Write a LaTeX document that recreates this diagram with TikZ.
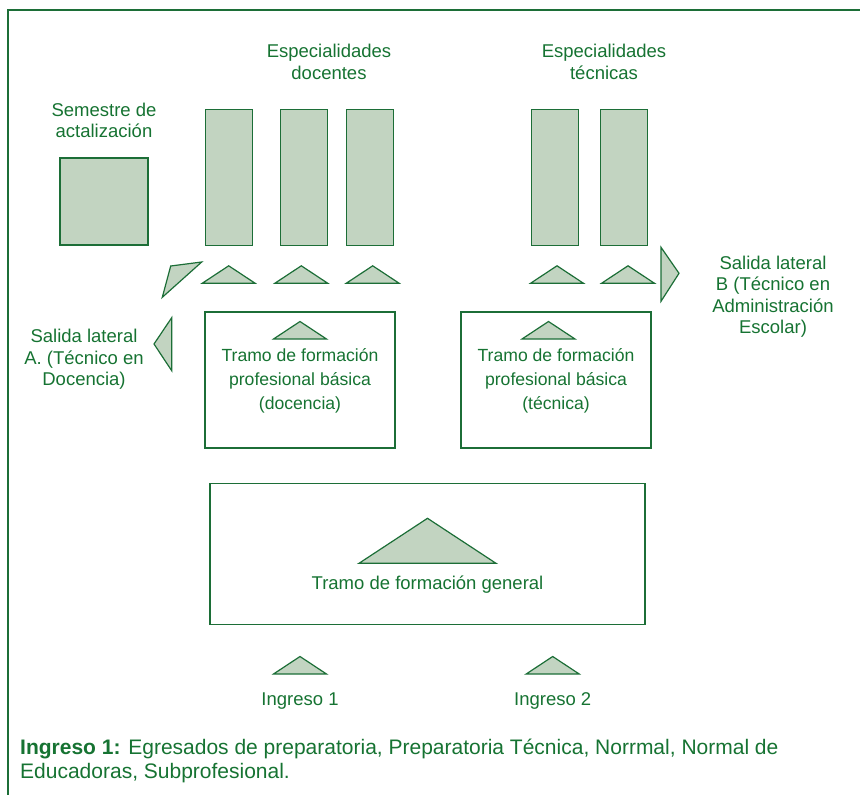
\documentclass[tikz,border=0pt]{standalone}
\usepackage{fontspec}
\setmainfont{Liberation Sans}
\usetikzlibrary{positioning}
\definecolor{verde}{RGB}{28,110,55}
\definecolor{texto}{RGB}{22,115,50}
\definecolor{relleno}{RGB}{194,212,193}

\begin{document}
\begin{tikzpicture}[x=1pt,y=-1pt,
    box/.style={draw=verde, line width=1.1pt, inner sep=0pt},
    bar/.style={box, fill=relleno, minimum width=47, minimum height=136},
    lbl/.style={text=texto, align=center, inner sep=0pt, font=\fontsize{18.5}{21.5}\selectfont},
    lbltramo/.style={lbl, font=\fontsize{17.6}{24}\selectfont},
    flecha/.style={draw=verde, fill=relleno, line width=1.2pt},
    pics/tri/.style args={#1/#2}{code={\path[flecha] (-#1/2,0) -- (0,-#2) -- (#1/2,0) -- cycle;}},
    pics/tri/.default=53/17.5]
    \useasboundingbox (0,0) rectangle (860,795);
    \draw[verde, line width=2.2pt] (7.7,795) -- (7.7,10.3) -- (860,10.3);

    \node[lbl] (tsem) at (104,120.5) {Semestre de\\actalización};
    \node[box, fill=relleno, minimum width=88, minimum height=87] (sem) at (104,201.5) {};
    \node[lbl] (tdoc) at (329,62) {Especialidades\\docentes};
    \node[bar] (d1) at (229.2,177.5) {};
    \node[bar] (d2) at (303.8,177.5) {};
    \node[bar] (d3) at (370.2,177.5) {};
    \node[lbl] (ttec) at (604,62) {Especialidades\\técnicas};
    \node[bar] (t1) at (554.7,177.5) {};
    \node[bar] (t2) at (624.2,177.5) {};
    \foreach \x in {228.7,301.3,372.7,557,628}
        \pic at (\x,283.3) {tri};

    \path[flecha] (201.7,262) -- (170.7,266) -- (162.3,297.3) -- cycle;
    \path[flecha] (171.7,317.7) -- (154,344) -- (171.7,370.7) -- cycle;
    \path[flecha] (661,247.3) -- (679,273.3) -- (661,301.3) -- cycle;
    \node[lbl] (sa) at (84,359.5) {Salida lateral\\A. (Técnico en\\Docencia)};
    \node[lbl] (sb) at (773,296.5) {Salida lateral\\B (Técnico en\\Administración\\Escolar)};

    \node[box, minimum width=190, minimum height=136] (fdoc) at (300,380) {};
    \pic at (300,339) {tri};
    \node[lbltramo] (tfdoc) at (300,381) {Tramo de formación\\profesional básica\\(docencia)};
    \node[box, minimum width=190, minimum height=136] (ftec) at (556,380) {};
    \pic at (548.5,339) {tri};
    \node[lbltramo] (tftec) at (556,381) {Tramo de formación\\profesional básica\\(técnica)};

    \node[box, minimum width=435, minimum height=141] (fgen) at (427.5,553.7) {};
    \pic at (427.5,563.3) {tri=137/45};
    \node[lbl] (tgen) at (427.5,585) {Tramo de formación general};

    \pic at (300,674) {tri};
    \pic at (552.7,674) {tri};
    \node[lbl] (i1) at (300,701) {Ingreso 1};
    \node[lbl] (i2) at (552.7,701) {Ingreso 2};

    \node[lbl, font=\fontsize{21}{24}\selectfont, align=left, anchor=west] (nota) at (20,761) {\textbf{Ingreso 1:} Egresados de preparatoria, Preparatoria Técnica, Norrmal, Normal de\\Educadoras, Subprofesional.};
\end{tikzpicture}
\end{document}
